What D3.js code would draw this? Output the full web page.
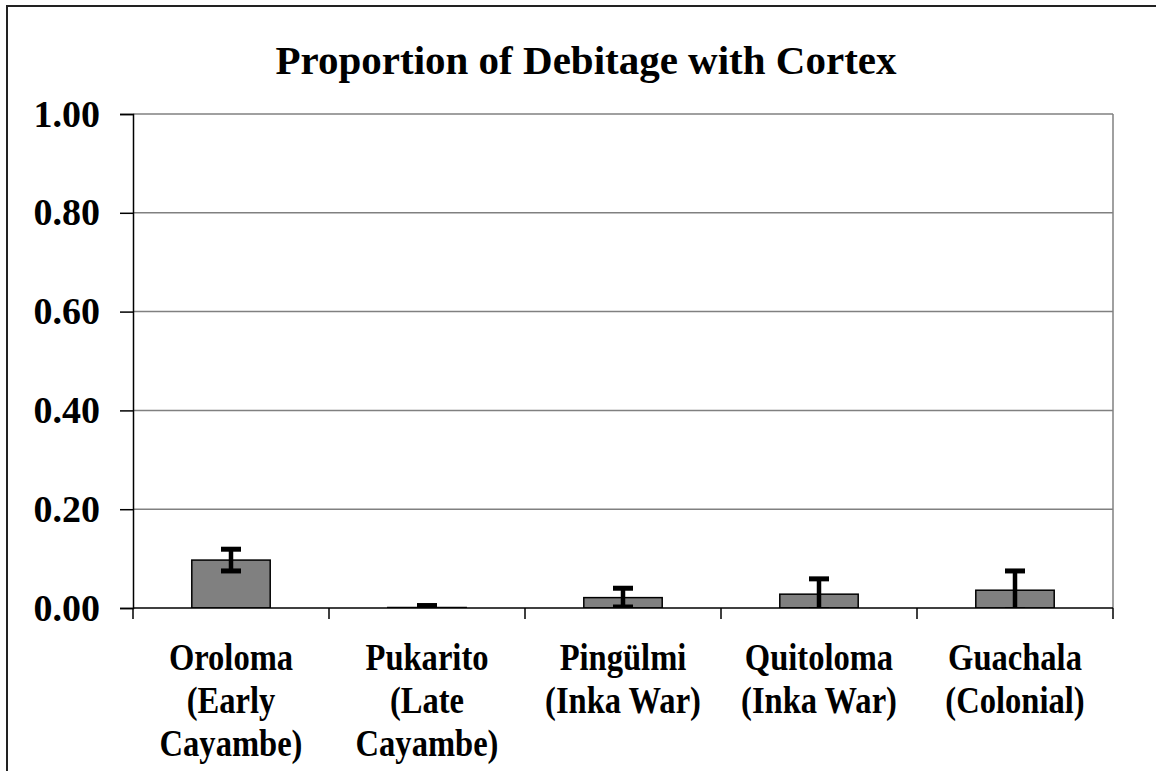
<!DOCTYPE html>
<html>
<head>
<meta charset="utf-8">
<script src="https://cdn.jsdelivr.net/npm/d3@7"></script>
<style>
  body { margin: 0; background: #fff; }
  text { font-family: "Liberation Serif", "Times New Roman", serif; font-weight: bold; fill: #000; }
</style>
</head>
<body>
<div id="chart"></div>
<script>
// data
const sites = [
  ["Oroloma", "(Early", "Cayambe)"],
  ["Pukarito", "(Late", "Cayambe)"],
  ["Pingülmi", "(Inka War)"],
  ["Quitoloma", "(Inka War)"],
  ["Guachala", "(Colonial)"]
];
const proportions = [0.097, 0.001, 0.021, 0.028, 0.036];
const errors = [0.022, 0.004, 0.019, 0.031, 0.039];
const yTicks = [0, 0.2, 0.4, 0.6, 0.8, 1.0];

const width = 1156, height = 771;
const margin = { top: 114, right: 43, bottom: 163, left: 133 };

const svg = d3.select("#chart")
  .append("svg")
  .attr("width", width)
  .attr("height", height);

// outer chart border (only top/left visible in the picture)
svg.append("rect")
  .attr("x", 7).attr("y", 6)
  .attr("width", width + 20).attr("height", height + 20)
  .attr("fill", "none")
  .attr("stroke", "#222")
  .attr("stroke-width", 2);

svg.append("text")
  .attr("x", 586)
  .attr("y", 74)
  .attr("text-anchor", "middle")
  .style("font-size", "41px")
  .text("Proportion of Debitage with Cortex");

const x = d3.scaleBand()
  .domain(d3.range(sites.length))
  .range([margin.left, width - margin.right])
  .paddingInner(0.6)
  .paddingOuter(0.3);

const y = d3.scaleLinear()
  .domain([0, 1])
  .range([height - margin.bottom, margin.top]);

const g = svg.append("g");

// gridlines
g.selectAll(".grid")
  .data(yTicks.filter(d => d > 0))
  .enter()
  .append("line")
  .attr("x1", margin.left)
  .attr("x2", width - margin.right)
  .attr("y1", d => y(d))
  .attr("y2", d => y(d))
  .attr("stroke", "#808080")
  .attr("stroke-width", 1.5);

// right edge of plot area
g.append("line")
  .attr("x1", width - margin.right).attr("x2", width - margin.right)
  .attr("y1", y(1)).attr("y2", y(0))
  .attr("stroke", "#808080")
  .attr("stroke-width", 1.5);

// clip so error bars stay inside plot
svg.append("clipPath").attr("id", "plotclip")
  .append("rect")
  .attr("x", margin.left).attr("y", margin.top)
  .attr("width", width - margin.left - margin.right)
  .attr("height", y(0) - margin.top);

const plot = g.append("g").attr("clip-path", "url(#plotclip)");

// bars
plot.selectAll(".bar")
  .data(proportions)
  .enter()
  .append("rect")
  .attr("x", (d, i) => x(i))
  .attr("y", d => y(d))
  .attr("width", x.bandwidth())
  .attr("height", d => y(0) - y(d))
  .attr("fill", "#808080")
  .attr("stroke", "#000")
  .attr("stroke-width", 1.5);

// error bars
const eb = plot.selectAll(".err")
  .data(proportions)
  .enter()
  .append("g")
  .attr("transform", (d, i) => `translate(${x(i) + x.bandwidth() / 2},0)`);

eb.append("line")
  .attr("y1", (d, i) => y(d + errors[i]))
  .attr("y2", (d, i) => y(d - errors[i]))
  .attr("stroke", "#000")
  .attr("stroke-width", 4.5);

eb.selectAll(".cap")
  .data((d, i) => [d + errors[i], d - errors[i]])
  .enter()
  .append("line")
  .attr("x1", -10).attr("x2", 10)
  .attr("y1", d => y(d))
  .attr("y2", d => y(d))
  .attr("stroke", "#000")
  .attr("stroke-width", 5);

// y axis
const yAxis = g.append("g")
  .attr("transform", `translate(${margin.left},0)`)
  .call(d3.axisLeft(y).tickValues(yTicks).tickFormat(d3.format(".2f")).tickSize(13).tickPadding(20));
yAxis.select(".domain").attr("stroke", "#000").attr("stroke-width", 1.5);
yAxis.selectAll(".tick line").attr("stroke", "#000").attr("stroke-width", 1.5);
yAxis.selectAll("text")
  .style("font-size", "38px")
  .style("font-family", "'Liberation Serif', serif")
  .style("font-weight", "bold")
  .attr("fill", "#000");

// x axis line and category ticks
g.append("line")
  .attr("x1", margin.left).attr("x2", width - margin.right)
  .attr("y1", y(0)).attr("y2", y(0))
  .attr("stroke", "#000")
  .attr("stroke-width", 1.5);

const bounds = d3.range(sites.length + 1).map(i => margin.left + i * x.step());
g.selectAll(".xtick")
  .data(bounds)
  .enter()
  .append("line")
  .attr("x1", d => d).attr("x2", d => d)
  .attr("y1", y(0)).attr("y2", y(0) + 11)
  .attr("stroke", "#000")
  .attr("stroke-width", 1.5);

// category labels (multi-line, slightly condensed like the original)
const lab = g.selectAll(".xlab")
  .data(sites)
  .enter()
  .append("g")
  .attr("transform", (d, i) => `translate(${x(i) + x.bandwidth() / 2},0)`);

lab.selectAll("text")
  .data(d => d)
  .enter()
  .append("text")
  .attr("text-anchor", "middle")
  .attr("transform", (d, j) => `translate(0,${670 + j * 43}) scale(0.88,1)`)
  .style("font-size", "37px")
  .text(d => d);
</script>
</body>
</html>
